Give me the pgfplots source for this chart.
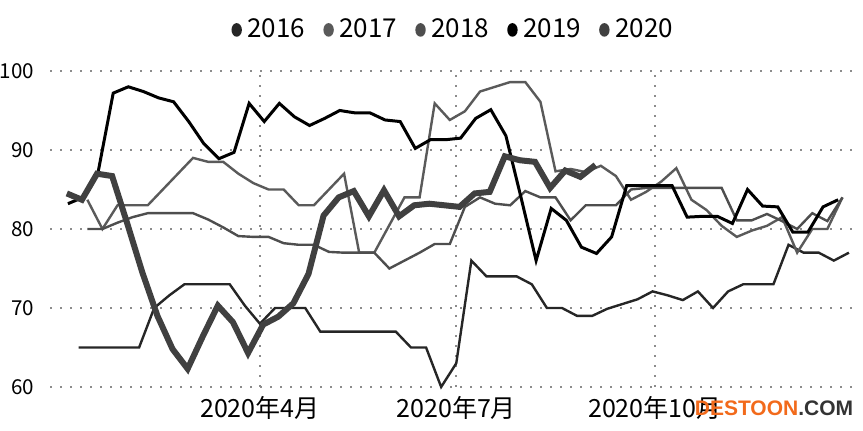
\documentclass[border=0pt]{standalone}
\usepackage{fontspec}
\setmainfont{Noto Sans CJK SC}
\newfontfamily\wmfont{Liberation Sans}
\usepackage{pgfplots}
\pgfplotsset{compat=1.18}
\definecolor{c16}{HTML}{262626}
\definecolor{c17}{HTML}{5A5A5A}
\definecolor{c18}{HTML}{4E4E4E}
\definecolor{c19}{HTML}{000000}
\definecolor{c20}{HTML}{404040}
\definecolor{wmorange}{HTML}{F26A1B}
\definecolor{wmgray}{HTML}{333333}
\begin{document}
\begin{tikzpicture}
\useasboundingbox (-25pt,-22pt) rectangle (406.5pt,193.5pt);
\begin{axis}[
  at={(0pt,0pt)}, anchor=south west,
  scale only axis, width=404pt, height=158pt,
  xmin=-6.3, xmax=368.2, ymin=60, ymax=100,
  axis line style={draw=none},
  major tick length=0pt,
  xtick={91,182,274},
  xticklabels={2020年4月,2020年7月,2020年10月},
  ytick={60,70,80,90,100},
  /pgf/number format/assume math mode=true,
  xticklabel style={font=\fontsize{12.5}{14}\selectfont, yshift=-1pt},
  yticklabel style={font=\fontsize{10.3}{12}\selectfont, xshift=-4.5pt},
  xmajorgrids, ymajorgrids,
  major grid style={black!45, line width=0.9pt, dash pattern=on 0.9pt off 4.1pt},
  clip=false,
  legend columns=-1,
  legend style={at={(axis description cs:0.4985,1.13)}, anchor=center,
    draw=none, fill=none, font=\fontsize{13}{14}\selectfont,
    nodes={inner sep=0.6pt},
    /tikz/every odd column/.append style={column sep=2.2pt},
    /tikz/every even column/.append style={column sep=8.5pt}},
  legend image code/.code={\fill[#1, draw=none] (0pt,0pt) ellipse (2.6pt and 3.4pt);},
]
\addplot[c16, line width=1.2pt] coordinates {(7,65.0)(14,65.0)(21,65.0)(28,65.0)(35,65.0)(42,70.0)(49,71.6)(56,73.0)(63,73.0)(70,73.0)(77,73.0)(84,70.3)(91,68.0)(98,70.0)(105,70.0)(112,70.0)(119,67.0)(126,67.0)(133,67.0)(140,67.0)(147,67.0)(154,67.0)(161,65.0)(168,65.0)(175,60.0)(182,63.0)(189,76.0)(196,74.0)(203,74.0)(210,74.0)(217,73.0)(224,70.0)(231,70.0)(238,69.0)(245,69.0)(252,69.9)(259,70.5)(266,71.1)(273,72.1)(280,71.6)(287,71.0)(294,72.1)(301,70.0)(308,72.1)(315,73.0)(322,73.0)(329,73.0)(336,78.0)(343,77.0)(350,77.0)(357,76.0)(364,77.0)};
\addlegendentry{2016}
\addplot[c17, line width=1.2pt] coordinates {(11,83.7)(18,80.0)(25,83.0)(32,83.0)(39,83.0)(46,85.0)(53,87.0)(60,89.0)(67,88.5)(74,88.5)(81,87.0)(88,85.8)(95,85.0)(102,85.0)(109,83.0)(116,83.0)(123,85.0)(130,87.0)(137,77.0)(144,77.0)(151,80.5)(158,84.0)(165,84.0)(172,95.9)(179,93.8)(186,94.9)(193,97.4)(200,98.0)(207,98.6)(214,98.6)(221,96.1)(228,87.3)(235,87.6)(242,87.2)(249,88.0)(256,86.7)(263,83.7)(270,84.7)(277,86.0)(284,87.7)(291,83.7)(298,82.4)(305,80.4)(312,79.0)(319,79.8)(326,80.4)(333,81.5)(340,77.0)(347,80.0)(354,80.0)(361,84.0)};
\addlegendentry{2017}
\addplot[c18, line width=1.2pt] coordinates {(11,80.0)(18,80.0)(25,80.8)(32,81.5)(39,82.0)(46,82.0)(53,82.0)(60,82.0)(67,81.2)(74,80.2)(81,79.1)(88,79.0)(95,79.0)(102,78.2)(109,78.0)(116,78.0)(123,77.1)(130,77.0)(137,77.0)(144,77.0)(151,75.0)(158,76.0)(165,77.0)(172,78.1)(179,78.1)(186,82.8)(193,84.0)(200,83.2)(207,83.0)(214,84.8)(221,84.0)(228,84.0)(235,81.1)(242,83.0)(249,83.0)(256,83.0)(263,85.0)(270,85.2)(277,85.2)(284,85.2)(291,85.2)(298,85.2)(305,85.2)(312,81.1)(319,81.1)(326,81.9)(333,81.0)(340,80.0)(347,82.0)(354,81.0)(361,84.0)};
\addlegendentry{2018}
\addplot[c19, line width=1.5pt] coordinates {(2,83.2)(9,84.0)(16,87.2)(23,97.2)(30,98.0)(37,97.4)(44,96.6)(51,96.1)(58,93.6)(65,90.8)(72,88.9)(79,89.7)(86,95.9)(93,93.6)(100,95.9)(107,94.2)(114,93.1)(121,94.0)(128,95.0)(135,94.7)(142,94.7)(149,93.8)(156,93.6)(163,90.2)(170,91.3)(177,91.3)(184,91.5)(191,94.0)(198,95.1)(205,91.8)(212,84.0)(219,76.0)(226,82.6)(233,81.1)(240,77.7)(247,76.9)(254,79.0)(261,85.5)(268,85.5)(275,85.5)(282,85.5)(289,81.5)(296,81.6)(303,81.6)(310,80.7)(317,85.0)(324,82.9)(331,82.8)(338,79.6)(345,79.6)(352,82.8)(359,83.7)};
\addlegendentry{2019}
\addplot[c20, line width=3pt] coordinates {(1.5,84.5)(8.5,83.7)(15.5,87.0)(22.5,86.7)(29.5,80.7)(36.5,74.5)(43.5,69.0)(50.5,64.8)(57.5,62.3)(64.5,66.4)(71.5,70.3)(78.5,68.2)(85.5,64.3)(92.5,67.9)(99.5,68.9)(106.5,70.6)(113.5,74.3)(120.5,81.7)(127.5,84.0)(134.5,84.8)(141.5,81.6)(148.5,84.9)(155.5,81.6)(162.5,83.0)(169.5,83.2)(176.5,83.0)(183.5,82.8)(190.5,84.5)(197.5,84.7)(204.5,89.2)(211.5,88.7)(218.5,88.5)(225.5,85.2)(232.5,87.4)(239.5,86.6)(246.5,88.1)};
\addlegendentry{2020}
\end{axis}
\node[anchor=center, inner sep=0pt, font=\wmfont\bfseries\fontsize{10.5}{12}\selectfont] at (362pt,-10.5pt) {\textcolor{wmorange}{DESTOON}\textcolor{wmgray}{.COM}};
\end{tikzpicture}
\end{document}
